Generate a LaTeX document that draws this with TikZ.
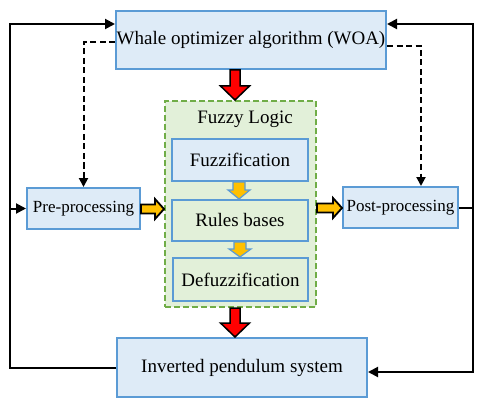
\documentclass[tikz,border=0pt]{standalone}
\usepackage{fontspec}
\setmainfont{Liberation Serif}
\usetikzlibrary{arrows.meta,calc}
\definecolor{boxfill}{HTML}{DEEBF7}
\definecolor{boxline}{HTML}{5B9BD5}
\definecolor{grfill}{HTML}{E2F0D9}
\definecolor{grline}{HTML}{70AD47}
\definecolor{orng}{HTML}{FFC000}
\definecolor{rd}{HTML}{FF0000}
\newcommand{\blockarrowV}[6]{%
  \draw[#1] (#2) ++({-#4},0) -- ++(0,{#3-#6}) -- ++({#4-#5},0) -- ++(#5,#6)
    -- ++(#5,{-#6}) -- ++({#4-#5},0) -- ++(0,{#6-#3}) -- cycle;}
\newcommand{\blockarrowH}[6]{%
  \draw[#1] (#2) ++(0,{-#4}) -- ++({#3-#6},0) -- ++(0,{#4-#5}) -- ++(#6,#5)
    -- ++({-#6},#5) -- ++(0,{#4-#5}) -- ++({#6-#3},0) -- cycle;}
\tikzset{
  bluebox/.style={draw=boxline, fill=boxfill, line width=2pt, inner sep=0pt,
    font=\fontsize{19}{22}\selectfont},
  greenbox/.style={draw=boxline, fill=grfill, line width=2pt, inner sep=0pt,
    font=\fontsize{19}{22}\selectfont},
  smallfont/.style={font=\fontsize{17}{20}\selectfont},
  flow/.style={line width=2pt, -{Triangle[length=10pt,width=10pt]}},
  plainline/.style={line width=2pt},
  dflow/.style={line width=2pt, dash pattern=on 6pt off 3.5pt, -{Triangle[length=9pt,width=9pt]}},
  redarr/.style={fill=rd, draw=black, line width=1.5pt, line join=miter},
  orarr/.style={fill=orng, draw=black, line width=1.8pt, line join=miter},
  smallarr/.style={fill=orng, draw=boxline, line width=1.2pt, line join=miter},
}
\begin{document}
\begin{tikzpicture}[x=1pt,y=-1pt]
\useasboundingbox (0,0) rectangle (480,404);
% container
\node[draw=grline, fill=grfill, line width=2pt, dash pattern=on 6pt off 3pt,
  minimum width=151pt, minimum height=206pt, inner sep=0pt] (fuzzy) at (240.5,204) {};
\node[font=\fontsize{19}{22}\selectfont, inner sep=0pt] (fl) at (245,119) {Fuzzy Logic};
% boxes
\node[bluebox, minimum width=270pt, minimum height=58pt] (woa) at (251,40) {Whale optimizer algorithm (WOA)};
\node[bluebox, smallfont, minimum width=113pt, minimum height=41pt] (pre) at (83.5,208.5) {Pre-processing};
\node[bluebox, smallfont, minimum width=115pt, minimum height=41pt] (post) at (400.5,207.5) {Post-processing};
\node[bluebox, minimum width=136pt, minimum height=42pt] (fuzz) at (240,160) {Fuzzification};
\node[greenbox, minimum width=136pt, minimum height=41pt] (rules) at (240,220.5) {Rules bases};
\node[greenbox, minimum width=135pt, minimum height=43pt] (defuzz) at (240.5,279.5) {Defuzzification};
\node[bluebox, minimum width=250pt, minimum height=59pt] (inv) at (242,367.5) {Inverted pendulum system};
% solid loops
\coordinate (lt) at (10,24);
\coordinate (rt) at (473,24);
\coordinate (rb) at (473,372);
\draw[flow] (inv.west) -| (lt) -- (woa.west |- lt);
\draw[flow] (lt |- pre.west) -- (pre.west);
\draw[plainline] (post.east) -- (post.east -| rt);
\draw[flow] (post.east -| rt) -- (rt) -- (woa.east |- rt);
\draw[flow] (post.east -| rt) -- (rb) -- (inv.east |- rb);
% dashed
\coordinate (dr) at (421,46);
\draw[dflow] ($(woa.west)+(0,2)$) -| (pre.north);
\draw[dflow] (woa.east |- dr) -| (dr |- post.north);
% block arrows
\coordinate (r1) at (235,70);
\coordinate (r2) at (235,308);
\blockarrowV{redarr}{r1}{30}{5}{14.5}{14}
\blockarrowV{redarr}{r2}{29}{5}{14.5}{14}
\coordinate (s1) at (239,182);
\coordinate (s2) at (240,242);
\blockarrowV{smallarr}{s1}{17}{6}{11}{9}
\blockarrowV{smallarr}{s2}{15}{6}{11}{8}
\coordinate (h1) at (141,209);
\coordinate (h2) at (317,208);
\blockarrowH{orarr}{h1}{23}{4.5}{10}{9}
\blockarrowH{orarr}{h2}{25}{4.5}{10}{9}
\end{tikzpicture}
\end{document}
